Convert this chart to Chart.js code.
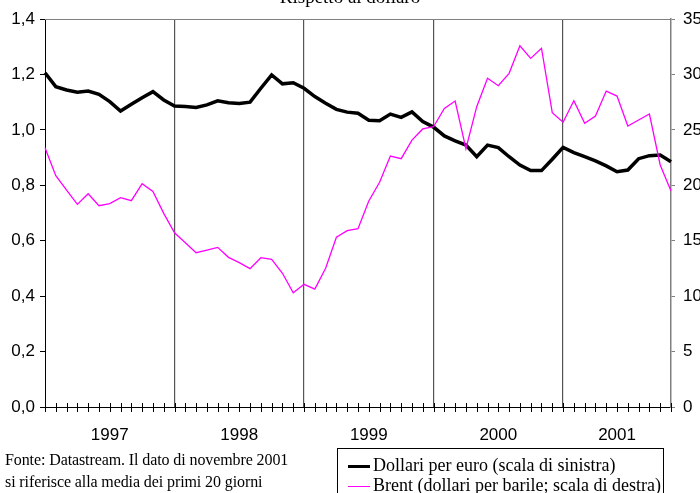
<!DOCTYPE html>
<html>
<head>
<meta charset="utf-8">
<script src="https://cdn.jsdelivr.net/npm/chart.js@4"></script>
<style>
  body { margin: 0; background: #fff; }
  #wrap { position: relative; width: 700px; height: 493px; overflow: hidden; }
  #nota {
    position: absolute; left: 5px; top: 449px;
    font: 16px "Liberation Serif", serif; letter-spacing: -0.1px; line-height: 22px; color: #000;
  }
  #legenda {
    position: absolute; left: 337px; top: 448px; width: 327px; height: 60px;
    border: 1px solid #000; box-sizing: border-box;
    font: 18px "Liberation Serif", serif; color: #000;
  }
  .voce { position: absolute; left: 10px; height: 20px; line-height: 20px; white-space: nowrap; }
  .voce span.seg { display: inline-block; width: 22px; vertical-align: middle; margin-right: 3px; }
</style>
</head>
<body>
<div id="wrap">
  <canvas id="grafico" width="700" height="493"></canvas>
  <div id="nota">Fonte: Datastream. Il dato di novembre 2001<br>si riferisce alla media dei primi 20 giorni</div>
  <div id="legenda"></div>
</div>
<script>
// mesi da gen 1997 a nov 2001
const years = [1997, 1998, 1999, 2000, 2001];
const monthNames = ['gen', 'feb', 'mar', 'apr', 'mag', 'giu', 'lug', 'ago', 'set', 'ott', 'nov', 'dic'];
const months = years.flatMap(y => monthNames.map(m => m + ' ' + y)).slice(0, 59);

// etichette degli anni e mese su cui stanno
const yearLabels = ['1997', '1998', '1999', '2000', '2001'];
const yearLabelAt = [6, 18, 30, 42, 53];

// dollari per euro (scala di sinistra)
const dollariPerEuro = [
    1.206, 1.156, 1.144, 1.136, 1.140, 1.128, 1.102, 1.068, 1.092, 1.116, 1.138, 1.108,
    1.086, 1.084, 1.081, 1.090, 1.105, 1.098, 1.095, 1.100, 1.150, 1.198, 1.166, 1.170,
    1.150, 1.120, 1.096, 1.074, 1.064, 1.060, 1.035, 1.033, 1.057, 1.045, 1.065, 1.030,
    1.010, 0.978, 0.960, 0.945, 0.903, 0.945, 0.936, 0.903, 0.873, 0.853, 0.853, 0.894,
    0.937, 0.918, 0.903, 0.888, 0.870, 0.849, 0.855, 0.896, 0.907, 0.909, 0.885
];

// Brent, dollari per barile (scala di destra)
const brent = [
    23.39, 20.87, 19.57, 18.28, 19.24, 18.16, 18.34, 18.88, 18.61, 20.14, 19.45, 17.47,
    15.72, 14.82, 13.92, 14.16, 14.40, 13.50, 13.02, 12.48, 13.47, 13.32, 12.06, 10.31,
    11.07, 10.64, 12.51, 15.31, 15.91, 16.09, 18.58, 20.27, 22.64, 22.40, 24.08, 25.08,
    25.28, 26.94, 27.60, 23.30, 27.09, 29.65, 28.98, 30.10, 32.59, 31.45, 32.36, 26.55,
    25.68, 27.63, 25.59, 26.25, 28.50, 28.05, 25.35, 25.89, 26.43, 21.83, 19.48
];

const serieNomi = ['Dollari per euro (scala di sinistra)', 'Brent (dollari per barile; scala di destra)'];

// tacche incrociate sull'asse x e bordo superiore
const tacche = {
    id: 'tacche',
    afterDraw(chart) {
        const ctx = chart.ctx, xs = chart.scales.x, area = chart.chartArea;
        ctx.save();
        ctx.strokeStyle = '#000';
        ctx.lineWidth = 1;
        ctx.beginPath();
        for (let i = 0; i < months.length; i++) {
            const px = Math.round(xs.getPixelForTick(i)) + 0.5;
            ctx.moveTo(px, area.bottom - 4);
            ctx.lineTo(px, area.bottom + 5);
        }
        ctx.stroke();
        ctx.strokeStyle = '#808080';
        ctx.beginPath();
        ctx.moveTo(area.left, area.top + 0.5);
        ctx.lineTo(area.right, area.top + 0.5);
        ctx.stroke();
        ctx.restore();
    }
};

const grafico = new Chart(document.getElementById('grafico'), {
    type: 'line',
    data: {
        labels: months,
        datasets: [{
            label: serieNomi[0],
            data: dollariPerEuro,
            yAxisID: 'y',
            borderColor: '#000',
            borderWidth: 3.5,
            pointRadius: 0,
            tension: 0,
            order: 1
        },
        {
            label: serieNomi[1],
            data: brent,
            yAxisID: 'y1',
            borderColor: '#ff00ff',
            borderWidth: 1.3,
            pointRadius: 0,
            tension: 0,
            order: 0
        }]
    },
    options: {
        responsive: false,
        animation: false,
        events: [],
        layout: { padding: 0 },
        plugins: {
            legend: { display: false },
            tooltip: { enabled: false },
            title: {
                display: true,
                text: 'Rispetto al dollaro',
                color: '#000',
                font: { family: 'Liberation Serif', size: 19, weight: 'normal' },
                padding: { top: -13.4, bottom: 9.6 }
            }
        },
        scales: {
            x: {
                type: 'category',
                offset: false,
                afterFit: s => { s.height = 86; },
                border: { color: '#000', width: 1 },
                grid: {
                    offset: false,
                    drawTicks: false,
                    lineWidth: 1.2,
                    color: c => (c.index > 0 && c.index < 58 && c.index % 12 === 0) ? '#555' : 'rgba(0,0,0,0)'
                },
                ticks: {
                    autoSkip: false,
                    maxRotation: 0,
                    padding: 18,
                    color: '#000',
                    font: { family: 'Liberation Sans', size: 17 },
                    callback: (v, i) => {
                        const k = yearLabelAt.indexOf(i);
                        return k >= 0 ? yearLabels[k] : '';
                    }
                }
            },
            y: {
                position: 'left',
                min: 0,
                max: 1.4,
                afterFit: s => { s.width = 45; },
                border: { color: '#000', width: 1 },
                grid: { drawOnChartArea: false, tickLength: 5, color: '#000' },
                ticks: {
                    stepSize: 0.2,
                    padding: 5,
                    color: '#000',
                    font: { family: 'Liberation Sans', size: 17 },
                    callback: v => v.toFixed(1).replace('.', ',')
                }
            },
            y1: {
                position: 'right',
                min: 0,
                max: 35,
                afterFit: s => { s.width = 29; },
                border: { color: '#808080', width: 1.5 },
                grid: { drawOnChartArea: false, tickLength: 4, color: '#808080' },
                ticks: {
                    stepSize: 5,
                    padding: 8,
                    color: '#000',
                    font: { family: 'Liberation Sans', size: 17 }
                }
            }
        }
    },
    plugins: [tacche]
});

// legenda incorniciata, costruita dalle serie del grafico
const legenda = document.getElementById('legenda');
grafico.data.datasets.forEach((ds, i) => {
    const riga = document.createElement('div');
    riga.className = 'voce';
    riga.style.top = (6 + i * 20) + 'px';
    riga.innerHTML = `<span class="seg" style="border-top:${ds.borderWidth > 2 ? 3 : 1.3}px solid ${ds.borderColor}"></span>${ds.label}`;
    legenda.appendChild(riga);
});
</script>
</body>
</html>
